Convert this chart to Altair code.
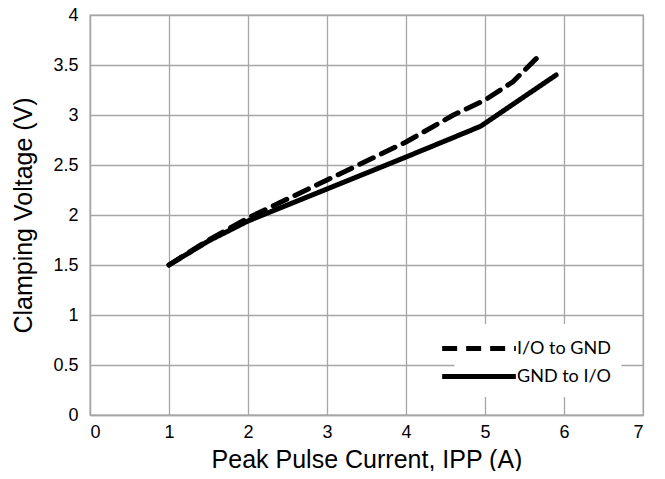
import altair as alt
import pandas as pd

io_gnd_x = [1.0, 1.5, 2.0, 2.5, 3.0, 3.5, 4.0, 4.6, 5.0, 5.35, 5.72]
io_gnd_y = [1.5, 1.75, 1.97, 2.16, 2.35, 2.54, 2.73, 3.0, 3.15, 3.33, 3.62]
gnd_io_x = [1.0, 1.5, 2.0, 2.5, 3.0, 3.5, 4.0, 4.8, 4.95, 5.9]
gnd_io_y = [1.5, 1.74, 1.94, 2.1, 2.26, 2.42, 2.58, 2.84, 2.89, 3.4]
series_names = ["I/O to GND", "GND to I/O"]
x_ticks = [0, 1, 2, 3, 4, 5, 6, 7]
y_ticks = [0, 0.5, 1, 1.5, 2, 2.5, 3, 3.5, 4]

rows = []
for x, y in zip(io_gnd_x, io_gnd_y):
    rows.append({"x": x, "y": y, "s": series_names[0]})
for x, y in zip(gnd_io_x, gnd_io_y):
    rows.append({"x": x, "y": y, "s": series_names[1]})
df = pd.DataFrame(rows)

grid = "#a6a6a6"

leg = dict(title=None, orient="none", legendX=364.5, legendY=309,
           fillColor="white", padding=10, symbolType="M-3.07,0H3.07",
           symbolSize=576, symbolStrokeWidth=5, labelFont="Lato",
           labelFontSize=18, labelColor="black", rowPadding=3,
           labelOffset=23.5)

chart = alt.Chart(df).mark_line(strokeWidth=5, strokeCap="round", strokeJoin="round").encode(
    x=alt.X("x:Q", scale=alt.Scale(domain=[0, 7], nice=False),
            axis=alt.Axis(title="Peak Pulse Current, IPP (A)", values=x_ticks, format="~g")),
    y=alt.Y("y:Q", scale=alt.Scale(domain=[0, 4], nice=False),
            axis=alt.Axis(title="Clamping Voltage (V)", values=y_ticks, format="~g")),
    color=alt.Color("s:N", scale=alt.Scale(domain=series_names, range=["black", "black"]),
                    legend=alt.Legend(**leg)),
    strokeDash=alt.StrokeDash("s:N", scale=alt.Scale(domain=series_names, range=[[15, 9], [1, 0]]),
                              legend=alt.Legend(**leg)),
    detail="s:N",
).properties(
    width=553, height=400,
    autosize=alt.AutoSizeParams(type="none"),
    padding={"left": 82, "top": 7, "right": 14, "bottom": 56},
).configure_view(
    stroke=grid, strokeWidth=1.3
).configure_axis(
    gridColor=grid, gridWidth=1.3, gridOpacity=1,
    domainColor=grid, domainWidth=1.3,
    ticks=False, labelOverlap=False,
    labelFont="Liberation Sans", labelFontSize=18, labelColor="black",
    titleFont="Liberation Sans", titleFontSize=25, titleColor="black", titleFontWeight="normal",
).configure_axisX(
    labelPadding=8, titlePadding=6
).configure_axisY(
    labelPadding=12, titlePadding=16
)

chart.save("out.html", embed_options={"renderer": "svg", "actions": False})
